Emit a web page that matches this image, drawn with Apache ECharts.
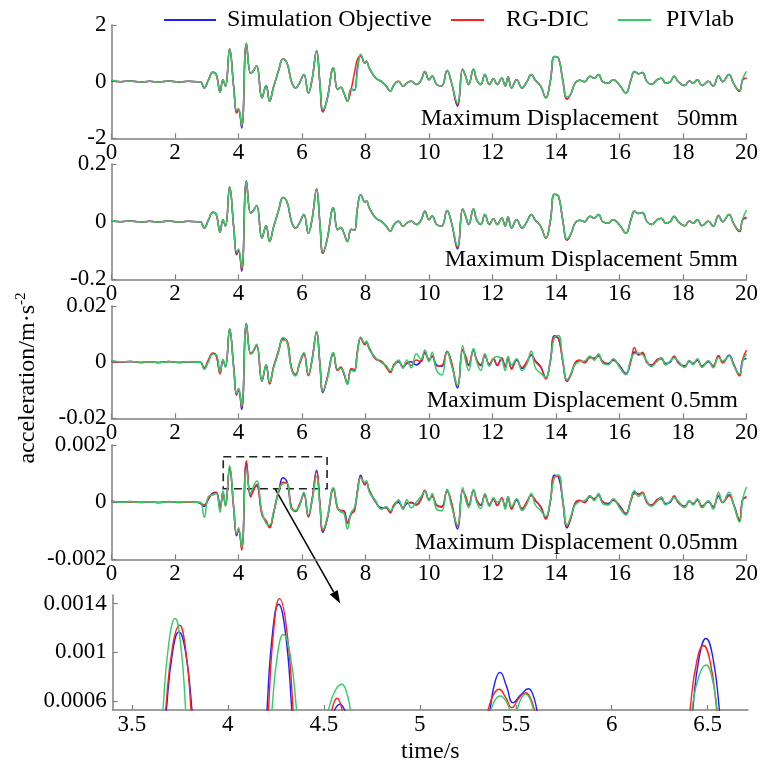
<!DOCTYPE html>
<html>
<head>
<meta charset="utf-8">
<script src="https://cdn.jsdelivr.net/npm/echarts@6/dist/echarts.min.js"></script>
<style>
html,body{margin:0;padding:0;background:#fff;}
#main{width:769px;height:766px;}
</style>
</head>
<body>
<div id="main"></div>
<script>
// ---------- DATA ----------
const seriesNames = ['Simulation Objective', 'RG-DIC', 'PIVlab'];
const panelTitles = ['Maximum Displacement   50mm', 'Maximum Displacement 5mm', 'Maximum Displacement 0.5mm', 'Maximum Displacement 0.05mm'];
const panelLimits = [2, 0.2, 0.02, 0.002];
const xTicksZoom = [3.5, 4, 4.5, 5, 5.5, 6, 6.5];
const yTicksZoom = [0.0006, 0.001, 0.0014];

// time (s) of the sampled points, shared by the four full panels
const T = [
0,0.3,0.6,0.9,1.2,1.5,1.8,2.1,2.4,2.7,
2.8,2.92,3.05,3.19,3.3,3.42,3.51,3.59,3.72,3.85,
3.94,4.0,4.1,4.25,4.38,4.45,4.57,4.74,4.87,4.98,
5.1,5.18,5.27,5.4,5.53,5.67,5.8,5.92,6.06,6.2,
6.32,6.46,6.56,6.66,6.79,6.99,7.12,7.22,7.32,7.43,
7.55,7.65,7.75,7.85,7.98,8.03,8.12,8.32,8.5,8.65,
8.78,8.9,9.04,9.18,9.3,9.44,9.6,9.75,9.87,10.0,
10.1,10.24,10.4,10.57,10.7,10.9,11.06,11.15,11.25,11.4,
11.5,11.63,11.76,11.9,12.03,12.15,12.29,12.4,12.49,12.6,
12.76,12.93,13.09,13.22,13.35,13.52,13.68,13.82,13.95,14.08,
14.21,14.35,14.48,14.6,14.74,14.9,15.07,15.2,15.34,15.47,
15.65,15.8,16.0,16.2,16.36,16.47,16.6,16.72,16.86,17.0,
17.19,17.32,17.45,17.6,17.72,17.85,18.05,18.2,18.32,18.45,
18.6,18.8,18.95,19.12,19.25,19.45,19.6,19.78,19.88,20.0
];

// Panel 1 (50 mm)
const simP1 = [
0.03,0.0,0.02,-0.01,0.01,-0.01,0.02,-0.01,0.01,0.0,
0.0,-0.22,0.05,0.33,0.25,-0.37,0.07,-0.16,1.15,-0.2,
-1.1,-0.98,-1.64,1.36,0.3,0.35,0.56,-0.57,-0.14,-0.69,
-0.2,0.09,0.42,0.8,0.65,0.0,-0.22,-0.05,0.25,-0.4,
0.1,1.09,0.0,-1.06,-0.63,0.48,-0.28,-0.2,-0.4,-0.69,
-0.26,-0.3,0.5,0.95,0.65,0.72,0.48,0.13,0.01,-0.15,
-0.34,-0.1,0.01,-0.16,-0.05,0.01,-0.1,0.05,0.36,0.07,
0.2,-0.1,-0.15,0.39,0.0,-0.87,0.44,0.2,-0.1,0.44,
0.07,-0.1,0.25,-0.1,0.1,-0.1,0.13,-0.15,0.16,-0.22,
0.07,-0.22,0.01,0.25,0.05,-0.16,-0.57,0.01,0.89,0.83,
0.07,-0.61,-0.4,-0.05,0.05,0.0,0.19,0.12,0.25,0.0,
-0.05,0.07,-0.12,-0.4,0.07,0.36,0.28,0.32,0.01,-0.1,
0.07,0.12,-0.05,0.0,0.19,0.0,-0.14,0.02,-0.05,0.07,
-0.14,0.01,-0.16,0.21,0.0,0.25,-0.08,-0.34,0.07,0.12
];
const rgP1 = [
0.03,0.0,0.02,-0.01,0.01,-0.01,0.02,-0.01,0.01,0.0,
0.0,-0.22,0.05,0.33,0.25,-0.37,0.07,-0.16,1.15,-0.2,
-1.1,-0.98,-1.58,1.33,0.3,0.35,0.56,-0.57,-0.14,-0.69,
-0.2,0.09,0.42,0.8,0.65,0.0,-0.22,-0.05,0.25,-0.4,
0.1,1.09,0.0,-1.06,-0.63,0.48,-0.28,-0.2,-0.4,-0.69,
-0.26,0.3,0.8,0.9,0.65,0.72,0.48,0.13,0.01,-0.15,
-0.34,-0.1,0.01,-0.16,-0.05,0.01,-0.1,0.05,0.36,0.07,
0.2,-0.1,-0.15,0.39,0.0,-0.82,0.44,0.2,-0.1,0.44,
0.07,-0.1,0.25,-0.1,0.1,-0.1,0.13,-0.15,0.16,-0.22,
0.07,-0.22,0.01,0.25,0.05,-0.16,-0.57,0.01,0.89,0.83,
0.07,-0.61,-0.4,-0.05,0.05,0.0,0.19,0.12,0.25,0.0,
-0.05,0.07,-0.12,-0.4,0.07,0.36,0.28,0.32,0.01,-0.1,
0.07,0.12,-0.05,0.0,0.19,0.0,-0.14,0.02,-0.05,0.07,
-0.14,0.01,-0.16,0.21,0.0,0.25,-0.08,-0.34,0.07,0.12
];
const pivP1 = [
0.06,0.0,0.02,-0.01,0.01,-0.01,0.02,-0.01,0.01,0.0,
0.0,-0.22,0.05,0.33,0.25,-0.37,0.07,-0.16,1.15,-0.2,
-1.0,-0.95,-1.55,1.36,0.3,0.35,0.56,-0.57,-0.14,-0.69,
-0.2,0.09,0.42,0.8,0.65,0.0,-0.22,-0.05,0.25,-0.4,
0.1,1.09,0.0,-0.98,-0.63,0.48,-0.28,-0.2,-0.4,-0.69,
-0.26,-0.32,0.4,0.97,0.65,0.72,0.48,0.13,0.01,-0.15,
-0.34,-0.1,0.01,-0.16,-0.05,0.01,-0.1,0.05,0.36,0.07,
0.2,-0.1,-0.15,0.39,0.0,-0.75,0.44,0.2,-0.1,0.44,
0.07,-0.1,0.25,-0.1,0.1,-0.1,0.13,-0.15,0.16,-0.22,
0.07,-0.22,0.01,0.25,0.05,-0.16,-0.57,0.01,0.89,0.83,
0.07,-0.55,-0.4,-0.05,0.05,0.0,0.19,0.12,0.25,0.0,
-0.05,0.07,-0.12,-0.4,0.07,0.36,0.28,0.32,0.01,-0.1,
0.07,0.12,-0.05,0.0,0.19,0.0,-0.14,0.02,-0.05,0.07,
-0.14,0.01,-0.16,0.21,0.0,0.25,-0.08,-0.3,0.1,0.36
];

// Panel 2 (5 mm)
const simP2 = [
0.003,0.0,0.002,-0.001,0.001,-0.001,0.002,-0.001,0.001,0.0,
0.0,-0.022,0.005,0.033,0.025,-0.037,0.007,-0.016,0.12,-0.02,
-0.115,-0.1,-0.172,0.142,0.03,0.035,0.056,-0.057,-0.014,-0.069,
-0.02,0.009,0.042,0.084,0.068,0.0,-0.022,-0.005,0.025,-0.04,
0.01,0.113,0.0,-0.11,-0.063,0.048,-0.028,-0.02,-0.04,-0.069,
-0.026,-0.03,0.05,0.093,0.068,0.072,0.048,0.013,0.001,-0.015,
-0.034,-0.01,0.001,-0.016,-0.005,0.001,-0.01,0.005,0.036,0.007,
0.02,-0.01,-0.015,0.039,0.0,-0.095,0.044,0.02,-0.01,0.044,
0.007,-0.01,0.025,-0.01,0.01,-0.01,0.013,-0.015,0.016,-0.022,
0.007,-0.022,0.001,0.025,0.005,-0.016,-0.057,0.001,0.095,0.088,
0.007,-0.064,-0.04,-0.005,0.005,0.0,0.019,0.012,0.025,0.0,
-0.005,0.007,-0.012,-0.04,0.007,0.036,0.028,0.032,0.001,-0.01,
0.007,0.012,-0.005,0.0,0.019,0.0,-0.014,0.002,-0.005,0.007,
-0.014,0.001,-0.016,0.021,0.0,0.025,-0.008,-0.034,0.007,0.012
];
const rgP2 = [
0.003,0.0,0.002,-0.001,0.001,-0.001,0.002,-0.001,0.001,0.0,
0.0,-0.022,0.005,0.033,0.025,-0.037,0.007,-0.016,0.12,-0.02,
-0.112,-0.098,-0.168,0.14,0.03,0.035,0.056,-0.057,-0.014,-0.069,
-0.02,0.009,0.042,0.084,0.068,0.0,-0.022,-0.005,0.025,-0.04,
0.01,0.113,0.0,-0.11,-0.063,0.048,-0.028,-0.02,-0.04,-0.069,
-0.026,-0.03,0.05,0.093,0.068,0.072,0.048,0.013,0.001,-0.015,
-0.034,-0.01,0.001,-0.016,-0.005,0.001,-0.01,0.005,0.036,0.007,
0.02,-0.01,-0.015,0.039,0.0,-0.09,0.044,0.02,-0.01,0.044,
0.007,-0.01,0.025,-0.01,0.01,-0.01,0.013,-0.015,0.016,-0.022,
0.007,-0.022,0.001,0.025,0.005,-0.016,-0.057,0.001,0.095,0.088,
0.007,-0.064,-0.04,-0.005,0.005,0.0,0.019,0.012,0.025,0.0,
-0.005,0.007,-0.012,-0.04,0.007,0.036,0.028,0.032,0.001,-0.01,
0.007,0.012,-0.005,0.0,0.019,0.0,-0.014,0.002,-0.005,0.007,
-0.014,0.001,-0.016,0.021,0.0,0.025,-0.008,-0.034,0.007,0.015
];
const pivP2 = [
0.004,0.0,0.002,-0.001,0.001,-0.001,0.002,-0.001,0.001,0.0,
0.0,-0.022,0.005,0.033,0.025,-0.037,0.007,-0.016,0.12,-0.02,
-0.105,-0.095,-0.16,0.14,0.03,0.035,0.056,-0.057,-0.014,-0.069,
-0.02,0.009,0.042,0.084,0.068,0.0,-0.022,-0.005,0.025,-0.04,
0.01,0.113,0.0,-0.105,-0.063,0.048,-0.028,-0.02,-0.04,-0.069,
-0.026,-0.03,0.05,0.093,0.068,0.072,0.048,0.013,0.001,-0.015,
-0.034,-0.01,0.001,-0.016,-0.005,0.001,-0.01,0.005,0.036,0.007,
0.02,-0.01,-0.015,0.039,0.0,-0.085,0.044,0.02,-0.01,0.044,
0.007,-0.01,0.025,-0.01,0.01,-0.01,0.013,-0.015,0.016,-0.022,
0.007,-0.022,0.001,0.025,0.005,-0.016,-0.057,0.001,0.095,0.088,
0.007,-0.06,-0.04,-0.005,0.005,0.0,0.019,0.012,0.025,0.0,
-0.005,0.007,-0.012,-0.04,0.007,0.036,0.028,0.032,0.001,-0.01,
0.007,0.012,-0.005,0.0,0.019,0.0,-0.014,0.002,-0.005,0.007,
-0.014,0.001,-0.016,0.021,0.0,0.025,-0.008,-0.03,0.01,0.04
];

// Panel 3 (0.5 mm)
const simP3 = [
0.0003,0.0,0.0002,-0.0001,0.0001,-0.0001,0.0002,-0.0001,0.0001,0.0,
0.0,-0.0023,0.0005,0.0031,0.0025,-0.0038,0.0007,-0.0016,0.0117,-0.002,
-0.0118,-0.0098,-0.0169,0.0138,0.003,0.0035,0.0061,-0.0068,-0.001,-0.0076,
-0.002,0.0009,0.0042,0.0085,0.0073,-0.0023,-0.0046,-0.0005,0.0031,-0.0046,
0.001,0.0108,0.0,-0.0108,-0.006,0.0031,-0.0028,-0.002,-0.004,-0.0076,
-0.0026,-0.003,0.004,0.0088,0.0065,0.0072,0.0048,0.0013,0.0001,-0.0015,
-0.0034,-0.001,0.0001,-0.0016,-0.0005,0.0001,-0.001,0.0005,0.0036,0.0007,
0.002,-0.001,-0.0015,0.0039,0.0,-0.0092,0.0044,0.002,-0.001,0.0044,
0.0007,-0.001,0.0025,-0.001,0.001,-0.001,0.0013,-0.0015,0.0016,-0.0022,
0.0007,-0.0022,0.0001,0.0025,0.0005,-0.0016,-0.0057,0.0001,0.0094,0.0083,
0.0007,-0.0068,-0.004,-0.0005,0.0005,0.0,0.0019,0.0012,0.0025,0.0,
-0.0005,0.0007,-0.0012,-0.004,0.0007,0.0036,0.0028,0.0032,0.0001,-0.001,
0.0007,0.0012,-0.0005,0.0,0.0019,0.0,-0.0014,0.0002,-0.0005,0.0007,
-0.0014,0.0001,-0.0016,0.0021,0.0,0.0025,-0.0008,-0.0046,0.0007,0.0012
];
const rgP3 = [
0.0003,0.0,0.0002,-0.0001,0.0001,-0.0001,0.0002,-0.0001,0.0001,0.0,
0.0,-0.002,0.0008,0.0033,0.0022,-0.0042,0.0005,-0.0014,0.0115,-0.0018,
-0.0115,-0.0095,-0.016,0.0138,0.0033,0.0038,0.0058,-0.0065,-0.0012,-0.0078,
-0.0018,0.0011,0.0045,0.008,0.0076,-0.002,-0.0043,-0.0008,0.0028,-0.0048,
0.0012,0.0105,0.0003,-0.0105,-0.0057,0.0028,-0.003,-0.0017,-0.0043,-0.0072,
-0.0023,-0.0027,0.0043,0.0085,0.0062,0.0068,0.0051,0.001,0.0004,-0.0018,
-0.0037,-0.0007,0.0004,-0.0019,-0.0002,-0.0012,0.0008,0.0002,0.0033,0.001,
0.0023,-0.0014,-0.0012,0.0036,0.0003,-0.0085,0.0041,0.0023,-0.0013,0.0041,
0.001,-0.0013,0.0022,-0.0007,0.0013,-0.0013,0.0016,-0.0018,0.0013,-0.0025,
0.001,-0.0019,0.0004,0.0028,0.0002,-0.0019,-0.006,0.0004,0.009,0.0085,
0.0004,-0.0065,-0.0043,-0.0002,0.0008,-0.0003,0.0016,0.0015,0.0022,0.0003,
-0.0008,0.001,-0.0015,-0.0043,0.0004,0.0052,0.0025,0.0035,-0.0002,-0.0013,
0.001,0.0015,-0.0008,0.0003,0.0022,-0.0003,-0.0017,0.0005,-0.0008,0.001,
-0.0017,0.0004,-0.0013,0.0024,-0.0003,0.0022,-0.0011,-0.0049,0.001,0.0043
];
const pivP3 = [
0.0005,0.0001,0.0002,0.0,0.0001,-0.0001,0.0001,0.0,0.0001,0.0,
0.0,-0.0025,0.0,0.0028,0.0027,-0.0035,0.001,-0.0019,0.012,-0.0025,
-0.0112,-0.0093,-0.0155,0.0136,0.0028,0.0037,0.0064,-0.0066,-0.0008,-0.0072,
-0.0023,0.0006,0.0039,0.0088,0.007,-0.0026,-0.0049,-0.0002,0.0034,-0.0043,
0.0007,0.011,-0.0003,-0.0102,-0.0063,0.0034,-0.0025,-0.0023,-0.0037,-0.008,
-0.0029,-0.0033,0.0037,0.009,0.0068,0.0075,0.0045,0.0016,-0.0002,-0.0012,
-0.0031,-0.0013,0.0008,-0.0022,0.0008,-0.002,0.003,0.001,0.0043,0.0002,
0.0035,-0.003,-0.0046,0.0037,-0.0008,-0.0082,0.0058,0.0005,-0.003,0.0049,
0.0002,-0.003,0.0031,-0.0015,0.0013,0.002,0.0008,-0.003,0.0021,-0.001,
0.0012,-0.003,-0.0005,0.004,-0.002,-0.004,-0.0054,0.0005,0.0088,0.0095,
0.0012,-0.0063,-0.0038,-0.0009,0.0002,0.0004,0.0022,0.0007,0.003,-0.0004,
-0.0009,0.0012,-0.0018,-0.0045,0.0012,0.003,0.0033,0.0027,0.0005,-0.0016,
0.0003,0.0016,-0.001,0.0004,0.0015,0.0004,-0.0019,0.0006,-0.0009,0.0012,
-0.0018,0.0005,-0.002,0.0017,0.0004,0.0022,-0.0012,-0.0042,0.0003,0.003
];

// Panel 4 (0.05 mm)
const simP4 = [
0.00003,0.0,0.00002,-0.00001,0.00001,-0.00001,0.00002,-0.00001,0.00001,0.0,
-0.00005,-0.00015,0.0001,0.00032,0.00035,-0.0002,0.00035,-0.0001,0.00116,-0.0002,
-0.00118,-0.00095,-0.0016,0.00138,0.00018,0.0004,0.00057,-0.0004,-0.0007,-0.00085,
-0.0004,0.0,0.0004,0.00085,0.0007,-0.0002,-0.0003,-0.0001,0.0003,-0.0005,
0.0001,0.00112,0.0,-0.00106,-0.0006,0.00047,-0.0002,-0.0003,-0.0003,-0.0007,
-0.0004,-0.0003,0.0004,0.00094,0.0006,0.0007,0.0004,0.0,-0.0002,-0.0002,
-0.00035,-0.0001,0.0,-0.0002,-0.00005,0.0,-0.0001,0.0001,0.0004,0.0001,
0.0002,-0.0001,-0.00015,0.0004,0.0,-0.00094,0.00042,0.0002,-0.0001,0.0004,
0.00007,-0.0001,0.00025,-0.0001,0.0001,-0.0001,0.00013,-0.00015,0.00016,-0.00022,
0.00007,-0.00022,0.00001,0.00025,0.00005,-0.00016,-0.00055,0.00001,0.00094,0.00088,
0.00007,-0.0009,-0.0005,-0.00005,0.00005,0.0,0.00019,0.00012,0.00025,0.0,
-0.00005,0.00007,-0.00012,-0.0004,0.00007,0.00036,0.00028,0.00032,0.00001,-0.0001,
0.00007,0.00012,-0.00005,0.0,0.00019,0.0,-0.00014,0.00002,-0.00005,0.00007,
-0.00014,0.00001,-0.00016,0.00021,0.0,0.00025,-0.00008,-0.00065,0.0001,0.00015
];
const rgP4 = [
0.00002,0.00001,0.0,0.0,0.00001,-0.00001,0.00001,0.0,0.0,0.0,
-0.00003,-0.0001,0.00012,0.0003,0.00033,-0.00022,0.00032,-0.00012,0.00122,-0.00025,
-0.0011,-0.001,-0.00168,0.00145,0.0002,0.00035,0.00062,-0.00045,-0.00065,-0.0009,
-0.00042,0.00002,0.00038,0.0007,0.00067,-0.00018,-0.00033,-0.00008,0.00027,-0.00052,
0.00012,0.00107,0.00002,-0.001,-0.00062,0.00045,-0.00022,-0.00028,-0.00032,-0.00075,
-0.00042,-0.00028,0.00042,0.00088,0.00062,0.00068,0.00042,0.00002,-0.00022,-0.00018,
-0.00038,-0.00008,0.00003,-0.00022,-0.00002,-0.00003,-0.00008,0.00012,0.00042,0.00008,
0.00022,-0.00012,-0.00018,0.00038,0.00002,-0.00085,0.0004,0.00022,-0.00012,0.00042,
0.00009,-0.00012,0.00022,-0.00008,0.00012,-0.00012,0.00015,-0.00018,0.00018,-0.00025,
0.0001,-0.00025,0.00003,0.00022,0.00007,-0.00018,-0.0006,0.00003,0.0009,0.0009,
0.00005,-0.00085,-0.00052,-0.00003,0.00007,-0.00002,0.00022,0.0001,0.00023,0.00002,
-0.00008,0.0001,-0.00015,-0.00042,0.00005,0.0003,0.00025,0.00035,-0.00002,-0.00012,
0.0001,0.00015,-0.00008,0.00002,0.00022,-0.00002,-0.00017,0.00004,-0.00008,0.0001,
-0.00017,0.00003,-0.00018,0.00024,-0.00002,0.00022,-0.0001,-0.0006,0.00008,0.0002
];
const pivP4 = [
0.00002,0.0,0.00001,0.0,0.00001,-0.00001,0.00001,0.0,0.00001,0.0,
0.0,-0.00053,0.0002,0.00025,0.0003,-0.00035,0.0004,-0.00015,0.00127,-0.00015,
-0.0011,-0.0009,-0.00156,0.00114,0.0003,0.0005,0.00074,-0.00035,-0.00075,-0.0008,
-0.00035,-0.00005,0.00045,0.00064,0.00066,-0.00025,-0.00028,-0.00015,0.00035,-0.00045,
0.00005,0.00091,-0.0001,-0.00095,-0.00055,0.0005,-0.00018,-0.00035,-0.0004,-0.00094,
-0.00035,-0.0002,0.00035,0.00085,0.0007,0.00075,0.00035,0.00005,-0.00025,-0.00015,
-0.0003,-0.00015,0.00008,-0.00025,0.00008,-0.0002,0.0,0.0002,0.00038,0.00005,
0.0003,-0.00025,-0.0003,0.00045,-0.0001,-0.0008,0.0005,0.0001,-0.0002,0.00045,
0.0,-0.00022,0.0003,-0.00015,0.00015,0.0,0.0001,-0.00025,0.0002,-0.00015,
0.00012,-0.0003,-0.00005,0.0003,-0.0001,-0.0003,-0.0005,0.00005,0.00085,0.00095,
0.00012,-0.0008,-0.00045,-0.0001,0.00002,0.00005,0.00022,0.00005,0.0003,-0.00005,
-0.0001,0.00012,-0.0002,-0.00045,0.00012,0.0004,0.0002,0.0003,0.00005,-0.00015,
0.00003,0.00018,-0.0001,0.00005,0.00015,0.00004,-0.0002,0.00006,-0.0001,0.00012,
-0.0002,0.00005,-0.00025,0.00035,0.0,0.00035,-0.00012,-0.0007,0.0001,0.00053
];

// Enlarged view (0.05 mm, 3.4 s - 6.7 s): [time, acceleration]
const simZoom = [
[3.40,0.0001],[3.6605,0.000084],[3.680,0.000526],[3.7125,0.001007],[3.745,0.001167],[3.779,0.001007],[3.813,0.000526],[3.833,0.000084],
[4.186,-0.00007],[4.204,0.000526],[4.234,0.001177],[4.264,0.001394],[4.2985,0.001177],[4.333,0.000526],[4.354,-0.00007],
[4.549,0.000494],[4.557,0.000526],[4.570,0.000561],[4.583,0.000573],[4.5955,0.000561],[4.608,0.000526],[4.616,0.000494],
[5.3484,0.000313],[5.366,0.000526],[5.392,0.000758],[5.418,0.000835],[5.452,0.00072],[5.486,0.000586],[5.526,0.00065],[5.566,0.0007],[5.588,0.000657],[5.61,0.000526],[5.623,0.000406],
[6.401,0.000121],[6.422,0.000526],[6.4565,0.000966],[6.491,0.001113],[6.526,0.000966],[6.561,0.000526],[6.582,0.000121],[6.71,0.0001]
];
const rgZoom = [
[3.40,0.0001],[3.654,0.000046],[3.676,0.000526],[3.712,0.001048],[3.748,0.001222],[3.778,0.001048],[3.808,0.000526],[3.826,0.000046],
[4.195,-0.0001],[4.212,0.000526],[4.2405,0.001212],[4.269,0.00144],[4.3045,0.001212],[4.34,0.000526],[4.361,-0.0001],
[4.534,0.00046],[4.542,0.000526],[4.5555,0.000598],[4.569,0.000622],[4.582,0.000598],[4.595,0.000526],[4.603,0.00046],
[5.339,0.000409],[5.356,0.000526],[5.3845,0.000654],[5.413,0.000696],[5.447,0.00063],[5.48,0.000545],[5.515,0.00062],[5.551,0.000668],[5.574,0.000632],[5.597,0.000526],[5.611,0.000428],
[6.387,0.00016],[6.408,0.000526],[6.443,0.000924],[6.478,0.001056],[6.5125,0.000924],[6.547,0.000526],[6.568,0.00016],[6.71,0.0001]
];
const pivZoom = [
[3.40,0.0001],[3.643,0.00001],[3.662,0.000526],[3.6935,0.001089],[3.725,0.001277],[3.7525,0.001089],[3.78,0.000526],[3.7965,0.00001],
[4.212,0.0001],[4.23,0.000526],[4.2595,0.000991],[4.289,0.001146],[4.3235,0.000991],[4.358,0.000526],[4.379,0.0001],
[4.503,0.00038],[4.524,0.000526],[4.5585,0.000684],[4.593,0.000737],[4.616,0.000684],[4.639,0.000526],[4.653,0.00038],
[5.356,0.000447],[5.37,0.000526],[5.394,0.000612],[5.418,0.000641],[5.444,0.000612],[5.47,0.000526],[5.488,0.000447],[5.507,0.000526],[5.529,0.000624],[5.551,0.000656],[5.5715,0.000624],[5.592,0.000526],[5.604,0.000436],
[6.395,0.000271],[6.417,0.000526],[6.454,0.000803],[6.491,0.000895],[6.5205,0.000803],[6.55,0.000526],[6.568,0.000271],[6.71,0.0001]
];

// annotation anchors (data coordinates)
const boxFrom = [3.52, 0.00159];
const boxTo = [6.79, 0.00047];
const arrowFrom = [5.15, 0.00047];   // in panel 4
const arrowTo = [4.585, 0.0014];     // in enlarged panel

// ---------- CHART ----------
const FONT = "'Liberation Serif', 'Times New Roman', serif";
const COLORS = ['#1e1eff', '#ff2020', '#33cc66'];
const AXIS_COLOR = '#808080';
const chart = echarts.init(document.getElementById('main'), null, {renderer: 'canvas'});

const grids = [
  {left: 111.5, right: 22.5, top: 25, height: 113.3},
  {left: 111.5, right: 22.5, top: 164, height: 115.3},
  {left: 111.5, right: 22.5, top: 306, height: 112.3},
  {left: 111.5, right: 22.5, top: 445, height: 114.3},
  {left: 112.7, right: 21, top: 595, height: 115}
];

function axisCommon() {
  return {
    axisLine: {show: true, onZero: false, lineStyle: {color: AXIS_COLOR, width: 1.5}},
    axisTick: {show: true, inside: true, length: 5, lineStyle: {color: AXIS_COLOR, width: 1.2}},
    splitLine: {show: false},
    axisLabel: {fontSize: 23, fontFamily: FONT, color: '#000'}
  };
}

const xAxes = [], yAxes = [], series = [];
for (let p = 0; p < 4; p++) {
  const xa = axisCommon();
  xa.axisLabel.margin = 3;
  xAxes.push(Object.assign({gridIndex: p, type: 'value', min: 0, max: 20, interval: 2}, xa));
  const ya = axisCommon();
  ya.axisLabel.margin = 5;
  yAxes.push(Object.assign({gridIndex: p, type: 'value', min: -panelLimits[p], max: panelLimits[p], interval: panelLimits[p]}, ya));
}
{
  const xa = axisCommon();
  xa.axisLabel.margin = 3;
  xa.axisLabel.customValues = xTicksZoom;
  xa.axisTick.customValues = xTicksZoom;
  xAxes.push(Object.assign({gridIndex: 4, type: 'value', min: 3.4, max: 6.71,
    name: 'time/s', nameLocation: 'middle', nameGap: 30,
    nameTextStyle: {fontSize: 24, fontFamily: FONT, color: '#000'}}, xa));
  const ya = axisCommon();
  ya.axisLabel.margin = 6;
  ya.axisLabel.customValues = yTicksZoom;
  ya.axisTick.customValues = yTicksZoom;
  yAxes.push(Object.assign({gridIndex: 4, type: 'value', min: 0.000526, max: 0.00147}, ya));
}

const panelData = [
  [simP1, rgP1, pivP1],
  [simP2, rgP2, pivP2],
  [simP3, rgP3, pivP3],
  [simP4, rgP4, pivP4]
];
for (let p = 0; p < 4; p++) {
  for (let s = 0; s < 3; s++) {
    const vals = panelData[p][s];
    const ser = {
      name: seriesNames[s], type: 'line', xAxisIndex: p, yAxisIndex: p,
      data: T.map((t, i) => [t, vals[i]]),
      smooth: 0.45, symbol: 'none', showSymbol: false,
      lineStyle: {color: COLORS[s], width: 1.5},
      itemStyle: {color: COLORS[s]},
      silent: true, animation: false
    };
    if (p === 3 && s === 0) {
      ser.markArea = {
        silent: true,
        itemStyle: {color: 'rgba(0,0,0,0)', borderColor: '#222', borderWidth: 1.6, borderType: [8, 5]},
        data: [[{coord: boxFrom}, {coord: boxTo}]]
      };
    }
    series.push(ser);
  }
}
const zoomData = [simZoom, rgZoom, pivZoom];
for (let s = 0; s < 3; s++) {
  series.push({
    name: seriesNames[s], type: 'line', xAxisIndex: 4, yAxisIndex: 4,
    data: zoomData[s], smooth: 0.5, symbol: 'none', showSymbol: false,
    clip: true,
    lineStyle: {color: COLORS[s], width: 1.4},
    itemStyle: {color: COLORS[s]},
    silent: true, animation: false
  });
}

const titleTops = [107, 248, 389, 531];
const titles = panelTitles.map((txt, i) => ({
  text: txt, right: 31, top: titleTops[i], padding: 0,
  textStyle: {fontSize: 24, fontWeight: 'normal', fontFamily: FONT, color: '#000'}
}));

const legendText = {fontSize: 24, fontFamily: FONT, color: '#000'};
const legends = [
  {data: [seriesNames[0]], left: 164, top: 8, padding: 0, icon: 'rect', itemWidth: 52, itemHeight: 2,
   textStyle: Object.assign({padding: [0, 0, 0, 6]}, legendText)},
  {data: [seriesNames[1]], left: 451, top: 8, padding: 0, icon: 'rect', itemWidth: 33, itemHeight: 2,
   textStyle: Object.assign({padding: [0, 0, 0, 17]}, legendText)},
  {data: [seriesNames[2]], left: 618, top: 8, padding: 0, icon: 'rect', itemWidth: 33, itemHeight: 2,
   textStyle: Object.assign({padding: [0, 0, 0, 10]}, legendText)}
];

chart.setOption({
  backgroundColor: '#fff',
  animation: false,
  title: titles,
  legend: legends,
  grid: grids,
  xAxis: xAxes,
  yAxis: yAxes,
  series: series
});

// y-axis name and the pointer arrow
const p0 = chart.convertToPixel({gridIndex: 3}, arrowFrom);
const p1 = chart.convertToPixel({gridIndex: 4}, arrowTo);
const dx = p1[0] - p0[0], dy = p1[1] - p0[1];
const len = Math.sqrt(dx * dx + dy * dy);
const ux = dx / len, uy = dy / len;
const headL = 13, headW = 4.5;
const baseX = p1[0] - ux * headL, baseY = p1[1] - uy * headL;

chart.setOption({
  graphic: [
    {
      type: 'text', x: 28, y: 378, rotation: Math.PI / 2,
      style: {
        text: '{a|acceleration/m·s}{b|-2}',
        align: 'center', verticalAlign: 'middle',
        rich: {
          a: {fontSize: 24, fontFamily: FONT, fill: '#000', lineHeight: 28},
          b: {fontSize: 15, fontFamily: FONT, fill: '#000', lineHeight: 28, verticalAlign: 'top', padding: [0, 0, 10, 0]}
        }
      }
    },
    {
      type: 'line', silent: true,
      shape: {x1: p0[0], y1: p0[1], x2: baseX, y2: baseY},
      style: {stroke: '#000', lineWidth: 1.5}
    },
    {
      type: 'polygon', silent: true,
      shape: {points: [[p1[0], p1[1]], [baseX - uy * headW, baseY + ux * headW], [baseX + uy * headW, baseY - ux * headW]]},
      style: {fill: '#000'}
    }
  ]
});
</script>
</body>
</html>
